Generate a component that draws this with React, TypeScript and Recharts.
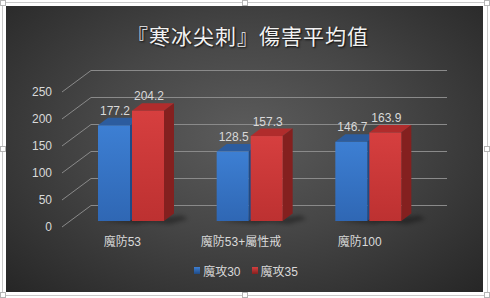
import { BarChart, Bar, XAxis, YAxis, CartesianGrid, LabelList, Legend } from "recharts";

const categories = ["魔防53", "魔防53+屬性戒", "魔防100"];
const atk30 = [177.2, 128.5, 146.7];
const atk35 = [204.2, 157.3, 163.9];
const yTicks = [0, 50, 100, 150, 200, 250];

const data = categories.map((name, i) => ({ name, atk30: atk30[i], atk35: atk35[i] }));

const TEXT = "#d9d9d9";
const FONT = "'Liberation Sans', 'Noto Sans CJK TC', sans-serif";
// 3D depth of the bars
const DX = 10;
const DY = 7.5;

const tones = {
  blue: { id: "gBlue", hi: "#3d7fd3", lo: "#2f67b4", top: "#2c5c9e", side: "#1f4a85" },
  red: { id: "gRed", hi: "#d63f3f", lo: "#bd3131", top: "#b02c2c", side: "#84201f" },
};

const Bar3D = (p: any) => {
  const { x, y, width: w, height: h, tone } = p;
  if (!w || h == null) return null;
  const t = tones[tone as "blue" | "red"];
  return (
    <g>
      <polygon
        points={`${x + 2},${y + h} ${x + w + DX + 8},${y + h - DY + 2} ${x + w + DX + 14},${y + h - 2} ${x + w + 6},${y + h + 3}`}
        fill="#000"
        opacity={0.35}
        filter="url(#soft)"
      />
      <polygon points={`${x},${y} ${x + DX},${y - DY} ${x + w + DX},${y - DY} ${x + w},${y}`} fill={t.top} />
      <polygon points={`${x + w},${y} ${x + w + DX},${y - DY} ${x + w + DX},${y + h - DY} ${x + w},${y + h}`} fill={t.side} />
      <rect x={x} y={y} width={w} height={h} fill={`url(#${t.id})`} />
    </g>
  );
};

const ValueLabel = (p: any) => {
  const { x, y, width, value } = p;
  return (
    <text x={x + width / 2 + 1} y={y - DY - 3} textAnchor="middle" fill={TEXT} fontSize={12} fontFamily={FONT}>
      {value}
    </text>
  );
};

const gridLine = (p: any) => {
  const yb = p.y1;
  return (
    <g key={p.key ?? `g-${p.index}`}>
      <line x1={p.x1 - 10} y1={yb + 6} x2={p.x1 + 19} y2={yb - 15.5} stroke="#8a8a8a" strokeWidth={1} />
      <line x1={p.x1 + 19} y1={yb - 15.5} x2={p.x2 + 19} y2={yb - 15.5} stroke="#8a8a8a" strokeWidth={1} />
    </g>
  );
};

const YTick = (p: any) => (
  <text x={52} y={p.y + 6} textAnchor="end" dominantBaseline="central" fill={TEXT} fontSize={12} fontFamily={FONT}>
    {p.payload.value}
  </text>
);

const XTick = (p: any) => (
  <text x={p.x - 9} y={242} textAnchor="middle" dominantBaseline="central" fill={TEXT} fontSize={12} fontFamily={FONT}>
    {p.payload.value}
  </text>
);

const series = [
  { key: "atk30", name: "魔攻30", tone: "blue" },
  { key: "atk35", name: "魔攻35", tone: "red" },
];

const renderLegend = () => (
  <div style={{ display: "flex", justifyContent: "center", gap: 11, fontFamily: FONT, fontSize: 12, color: TEXT, paddingLeft: 2 }}>
    {series.map((s) => {
      const t = tones[s.tone as "blue" | "red"];
      return (
        <span key={s.key} style={{ display: "flex", alignItems: "center", gap: 3 }}>
          <span style={{ display: "inline-block", width: 6, height: 7, background: `linear-gradient(${t.hi}, ${t.side})` }} />
          {s.name}
        </span>
      );
    })}
  </div>
);

const handle = (left: number, top: number) => (
  <div
    style={{ position: "absolute", left, top, width: 6, height: 6, background: "#fff", border: "1px solid #b5b5b5", boxSizing: "border-box" }}
  />
);

export default function App() {
  return (
    <div style={{ position: "absolute", left: 0, top: 0, width: 490, height: 298, background: "#fff", overflow: "hidden" }}>
      <div style={{ position: "absolute", left: 2, top: 2, width: 486, height: 294, border: "1px solid #c9c9c9", boxSizing: "border-box" }} />
      <div
        style={{
          position: "absolute",
          left: 6,
          top: 6,
          width: 477,
          height: 286,
          background: "radial-gradient(ellipse at 50% 45%, #5c5c5c 0%, #464646 45%, #262626 100%)",
        }}
      />
      <div
        style={{
          position: "absolute",
          left: 5,
          top: 20,
          width: 486,
          textAlign: "center",
          fontFamily: "'Noto Sans CJK TC', sans-serif",
          fontSize: 21,
          letterSpacing: 1,
          lineHeight: "30px",
          color: "#f2f2f2",
          textShadow: "1px 1px 2px rgba(0,0,0,0.9)",
        }}
      >
        『寒冰尖刺』傷害平均值
      </div>
      <div style={{ position: "absolute", left: 0, top: 0 }}>
        <BarChart width={490} height={298} data={data} margin={{ top: 86, right: 62, bottom: 47, left: 32 }} barSize={32} barGap={2}>
          <defs>
            {Object.values(tones).map((t) => (
              <linearGradient key={t.id} id={t.id} x1="0" y1="0" x2="0" y2="1">
                <stop offset="0%" stopColor={t.hi} />
                <stop offset="100%" stopColor={t.lo} />
              </linearGradient>
            ))}
            <filter id="soft" x="-50%" y="-50%" width="200%" height="200%">
              <feGaussianBlur stdDeviation="2" />
            </filter>
          </defs>
          <CartesianGrid vertical={false} horizontal={gridLine} />
          <XAxis dataKey="name" height={30} axisLine={false} tickLine={false} tick={XTick} interval={0} />
          <YAxis width={40} domain={[0, 250]} ticks={yTicks} axisLine={false} tickLine={false} tick={YTick} />
          <Legend
            verticalAlign="middle"
            layout="horizontal"
            align="center"
            content={renderLegend}
            wrapperStyle={{ top: 262, left: 0, width: 490 }}
          />
          {series.map((s) => (
            <Bar key={s.key} dataKey={s.key} name={s.name} isAnimationActive={false} shape={(p: any) => <Bar3D {...p} tone={s.tone} />}>
              <LabelList dataKey={s.key} content={ValueLabel} />
            </Bar>
          ))}
        </BarChart>
      </div>
      {handle(0, 0)}
      {handle(242, 0)}
      {handle(484, 0)}
      {handle(0, 146)}
      {handle(484, 146)}
      {handle(0, 292)}
      {handle(242, 292)}
      {handle(484, 292)}
    </div>
  );
}
